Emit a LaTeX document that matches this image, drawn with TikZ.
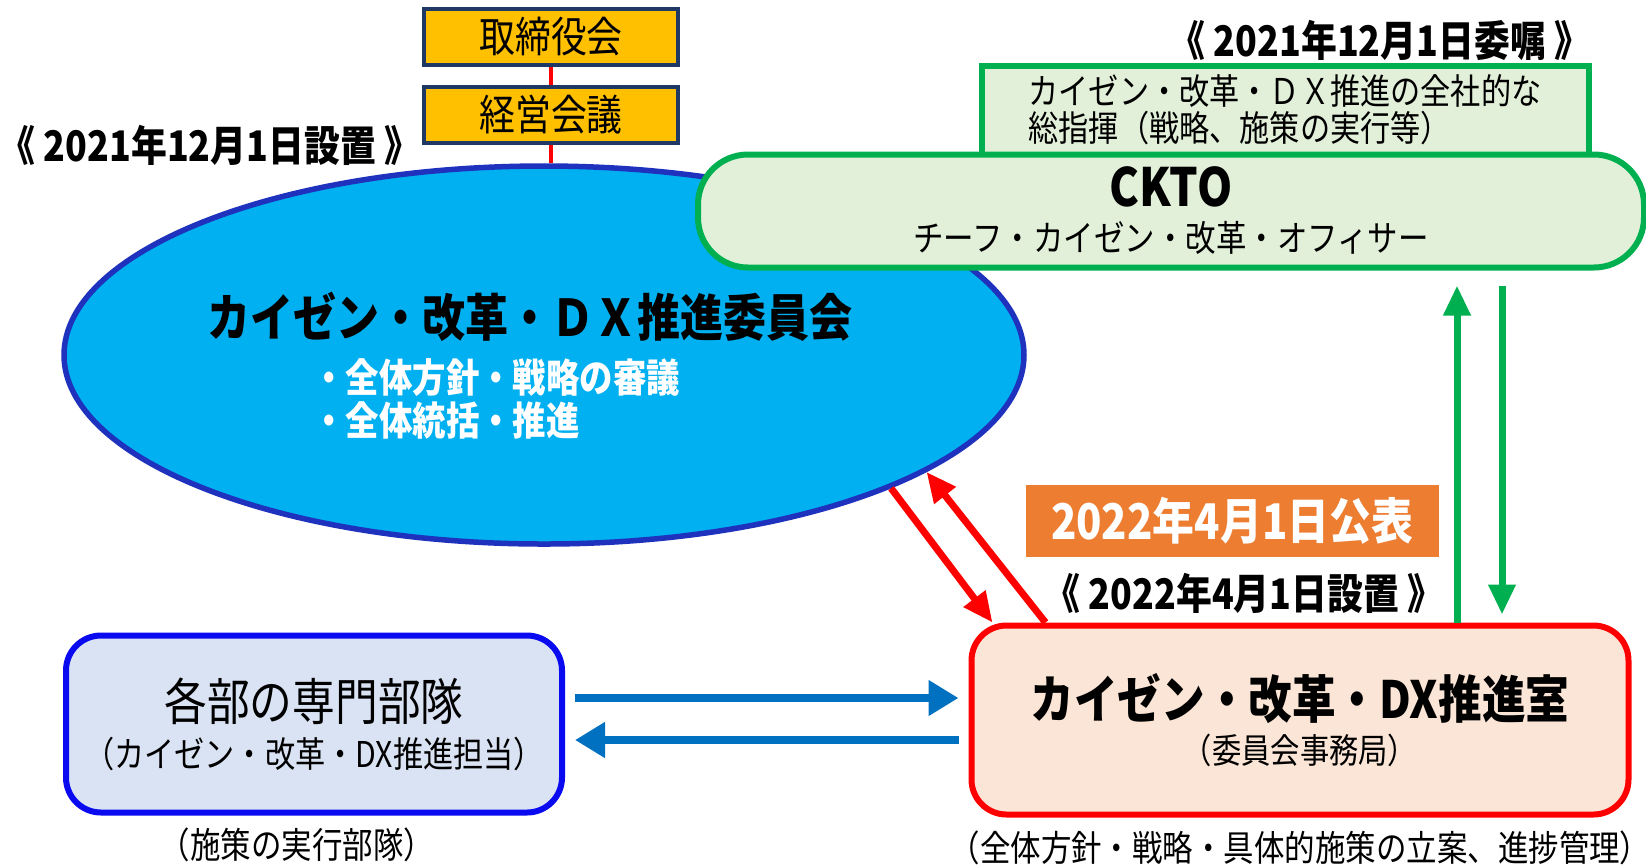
\documentclass[tikz,border=0pt]{standalone}
\usepackage{fontspec}
\setmainfont{Noto Sans CJK JP}[FakeStretch=0.85]
\usetikzlibrary{shapes.geometric,arrows.meta,calc}
\definecolor{gold}{HTML}{FFC000}
\definecolor{navy}{HTML}{1F3864}
\definecolor{sky}{HTML}{00B0F0}
\definecolor{deepblue}{HTML}{1E32BE}
\definecolor{leaf}{HTML}{00B050}
\definecolor{mint}{HTML}{E2F0D9}
\definecolor{carrot}{HTML}{ED7D31}
\definecolor{peach}{HTML}{FBE5D6}
\definecolor{pureblue}{HTML}{0A0AF0}
\definecolor{ice}{HTML}{DAE3F3}
\definecolor{ocean}{HTML}{0070C0}

\begin{document}
\begin{tikzpicture}[x=0.1mm,y=-0.1mm]
	\tikzstyle{every node}=[inner sep=1pt, align=center]
	\tikzstyle{yellowbox}=[draw=navy, fill=gold, line width=0.35mm, minimum width=25.4mm, minimum height=5.6mm, font=\fontsize{12pt}{14pt}\selectfont]
	\tikzstyle{datelabel}=[font=\bfseries\fontsize{12pt}{13pt}\selectfont]
	\tikzstyle{greenbox}=[draw=leaf, fill=mint, line width=0.6mm]
	\tikzstyle{note}=[font=\fontsize{10.2pt}{12pt}\selectfont]
	\tikzstyle{redarr}=[draw=red, line width=0.7mm, -{Triangle[length=3mm,width=2.6mm]}]
	\tikzstyle{greenarr}=[draw=leaf, line width=0.7mm, -{Triangle[length=3mm,width=2.6mm]}]
	\tikzstyle{bluearr}=[draw=ocean, line width=0.8mm, -{Triangle[length=3mm,width=3.4mm]}]
	\useasboundingbox (0,0) rectangle (1646,864);

	\node[yellowbox] (B) at (551,37) {取締役会};
	\node[yellowbox] (K) at (551,115) {経営会議};
	\node[datelabel] (D1) at (210,145) {《 2021年12月1日設置 》};

	\node[ellipse, draw=deepblue, fill=sky, line width=0.55mm, minimum width=96mm, minimum height=37.8mm] (C) at (544,355) {};
	\draw[draw=red, line width=0.45mm] (B) -- (K);
	\draw[draw=red, line width=0.45mm] (K.south) -- (K.south |- C.north);
	\node[font=\bfseries\fontsize{14.4pt}{16pt}\selectfont] (Ct) at (530,317) {カイゼン・改革・ＤＸ推進委員会};
	\node[anchor=west, align=left, text=white, font=\bfseries\fontsize{11.2pt}{12pt}\selectfont] (Cb) at (308,399) {・全体方針・戦略の審議\\・全体統括・推進};

	\node[datelabel] (D2) at (1380,40) {《 2021年12月1日委嘱 》};
	\node[greenbox, align=left, minimum width=60.7mm, minimum height=8.9mm, font=\fontsize{10.1pt}{10.5pt}\selectfont] (G) at (1285,110) {カイゼン・改革・ＤＸ推進の全社的な\\総指揮（戦略、施策の実行等）};
	\node[greenbox, rounded corners=5mm, minimum width=94.6mm, minimum height=11.3mm, font=\fontsize{10.2pt}{12.8pt}\selectfont] (T) at (1171,211) {{\bfseries\fontsize{15pt}{15pt}\selectfont CKTO}\\チーフ・カイゼン・改革・オフィサー};

	\node[fill=carrot, text=white, minimum width=41.3mm, minimum height=7.2mm, font=\bfseries\fontsize{14pt}{16pt}\selectfont] (P) at (1232,521) {2022年4月1日公表};
	\node[datelabel] (D3) at (1244,593) {《 2022年4月1日設置 》};

	\node[draw=red, fill=peach, line width=0.6mm, rounded corners=3.5mm, minimum width=65.7mm, minimum height=18.9mm, font=\fontsize{9.8pt}{13pt}\selectfont] (O) at (1300,720) {{\bfseries\fontsize{14.6pt}{15pt}\selectfont カイゼン・改革・DX推進室}\\（委員会事務局）};
	\node[note] (On) at (1300,848) {（全体方針・戦略・具体的施策の立案、進捗管理）};

	\node[draw=pureblue, fill=ice, line width=0.6mm, rounded corners=3.5mm, minimum width=49.6mm, minimum height=17.7mm, font=\fontsize{10.1pt}{13.4pt}\selectfont] (S) at (314,724) {{\fontsize{14.3pt}{15pt}\selectfont 各部の専門部隊}\\（カイゼン・改革・DX推進担当）};
	\node[note] (Sn) at (297,845) {（施策の実行部隊）};

	\draw[redarr] (C.-21.5) -- ([xshift=2.4mm]O.north west);
	\draw[redarr] ([xshift=7.7mm]O.north west) -- (C.-17);

	\path ($(O.north)+(157,0)$) coordinate (g1);
	\draw[greenarr, shorten >=1.5mm] (g1) -- (g1 |- T.south);
	\path ($(T.south)+(331,0)$) coordinate (g2);
	\draw[greenarr, shorten <=1.5mm, shorten >=0.8mm] (g2) -- (g2 |- O.north);

	\path ([yshift=2.6mm]S.east) coordinate (a1);
	\draw[bluearr, shorten <=1mm, shorten >=1mm] (a1) -- (a1 -| O.west);
	\path ([yshift=-1.6mm]S.east) coordinate (a2);
	\draw[bluearr, shorten <=1mm, shorten >=1mm] (a2 -| O.west) -- (a2);
\end{tikzpicture}
\end{document}
